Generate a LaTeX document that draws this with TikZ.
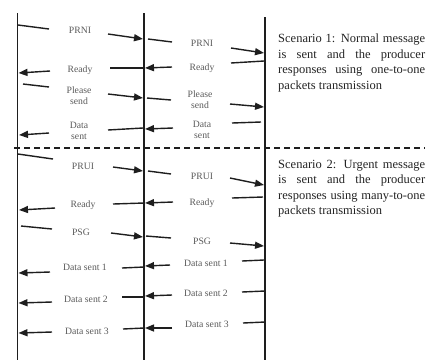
\documentclass[tikz,border=0pt]{standalone}
\usepackage{fontspec}
\setmainfont{Liberation Serif}
\usetikzlibrary{arrows.meta}

\definecolor{inkline}{HTML}{1E1E1E}
\definecolor{inklabel}{HTML}{5A5A5A}
\definecolor{inktext}{HTML}{222222}

% justified paragraphs without hyphenation
\hyphenpenalty=10000
\exhyphenpenalty=10000
\emergencystretch=8pt

% a message line between two named coordinates
\newcommand{\msgseg}[6]{%
  \coordinate (#1-a) at (#3,#4);
  \coordinate (#1-b) at (#5,#6);
  \draw[#2] (#1-a) -- (#1-b);}

\begin{document}
\begin{tikzpicture}[x=1pt,y=-1pt,
  lifeline/.style={draw=inkline,line width=1.1pt},
  msgline/.style={draw=inkline,line width=1.4pt},
  msgarrow/.style={msgline,-{Triangle[length=9pt,width=7pt]}},
  lbl/.style={inner sep=0pt,text=inklabel,font=\fontsize{9.7}{11}\selectfont,align=center},
  scen/.style={inner sep=0pt,anchor=north west,text=inktext,text width=147pt,align=justify,
    font=\fontsize{12.5}{15.5}\selectfont},
  divider/.style={draw=inkline,line width=1.3pt,dash pattern=on 6pt off 4pt}]

\useasboundingbox (0,0) rectangle (427,360);

% lifelines
\coordinate (L-top) at (17.5,13);  \coordinate (L-bot) at (17.5,360);
\coordinate (M-top) at (144,13);   \coordinate (M-bot) at (144,360);
\coordinate (R-top) at (265,17);   \coordinate (R-bot) at (265,360);
\draw[lifeline] (L-top) -- (L-bot);
\draw[lifeline] (M-top) -- (M-bot);
\draw[lifeline] (R-top) -- (R-bot);

% scenario divider
\coordinate (div-a) at (14,148);
\coordinate (div-b) at (425,148);
\draw[divider] (div-a) -- (div-b);

% ---------- scenario 1, left column ----------
\msgseg{l1in}{msgline}{18}{25}{49}{29}
\node[lbl] (l1lbl) at (80,30) {PRNI};
\msgseg{l1out}{msgarrow}{108}{34}{143}{39}

\msgseg{l2in}{msgline}{144}{68}{110}{68}
\node[lbl] (l2lbl) at (80,70) {Ready};
\msgseg{l2out}{msgarrow}{50}{71}{18.5}{73}

\msgseg{l3in}{msgline}{23}{84}{49}{87}
\node[lbl] (l3lbl) at (79,95.5) {Please\\send};
\msgseg{l3out}{msgarrow}{108}{94}{143}{98}

\msgseg{l4in}{msgline}{143}{128}{108}{130}
\node[lbl] (l4lbl) at (79,130.5) {Data\\sent};
\msgseg{l4out}{msgarrow}{49}{133}{19}{135}

% ---------- scenario 1, middle column ----------
\msgseg{m1in}{msgline}{148}{39}{172}{42}
\node[lbl] (m1lbl) at (202,43) {PRNI};
\msgseg{m1out}{msgarrow}{231}{48}{264}{53}

\msgseg{m2in}{msgline}{264}{61}{231}{63}
\node[lbl] (m2lbl) at (202,68) {Ready};
\msgseg{m2out}{msgarrow}{172}{67}{145}{68}

\msgseg{m3in}{msgline}{147}{98}{171}{100}
\node[lbl] (m3lbl) at (200,99.5) {Please\\send};
\msgseg{m3out}{msgarrow}{230}{104}{264}{107}

\msgseg{m4in}{msgline}{261}{122}{232}{123}
\node[lbl] (m4lbl) at (202,130) {Data\\sent};
\msgseg{m4out}{msgarrow}{173}{128}{145}{129}

% ---------- scenario 2, left column ----------
\msgseg{l5in}{msgline}{18}{154}{53}{159}
\node[lbl] (l5lbl) at (83,166) {PRUI};
\msgseg{l5out}{msgarrow}{113}{167}{143}{171}

\msgseg{l6in}{msgline}{144}{203}{113}{204}
\node[lbl] (l6lbl) at (83,205) {Ready};
\msgseg{l6out}{msgarrow}{55}{208}{19}{210}

\msgseg{l7in}{msgline}{21}{226}{52}{229}
\node[lbl] (l7lbl) at (81,232) {PSG};
\msgseg{l7out}{msgarrow}{111}{233}{143}{237}

\msgseg{l8in}{msgline}{144}{267}{122}{268}
\node[lbl] (l8lbl) at (85,267) {Data sent 1};
\msgseg{l8out}{msgarrow}{50}{272}{18.5}{273}

\msgseg{l9in}{msgline}{143}{297}{122}{297}
\node[lbl] (l9lbl) at (86,299) {Data sent 2};
\msgseg{l9out}{msgarrow}{52}{302}{18.5}{303}

\msgseg{l10in}{msgline}{144}{328}{123}{329}
\node[lbl] (l10lbl) at (87,331) {Data sent 3};
\msgseg{l10out}{msgarrow}{52}{332}{18.5}{333}

% ---------- scenario 2, middle column ----------
\msgseg{m5in}{msgline}{148}{171}{171}{174}
\node[lbl] (m5lbl) at (202,176) {PRUI};
\msgseg{m5out}{msgarrow}{230}{178}{264}{185}

\msgseg{m6in}{msgline}{263}{197}{232}{198}
\node[lbl] (m6lbl) at (202,203) {Ready};
\msgseg{m6out}{msgarrow}{173}{202}{145}{203}

\msgseg{m7in}{msgline}{146}{236}{171}{238}
\node[lbl] (m7lbl) at (202,241) {PSG};
\msgseg{m7out}{msgarrow}{230}{243}{264}{246}

\msgseg{m8in}{msgline}{264}{260}{242}{261}
\node[lbl] (m8lbl) at (206,263) {Data sent 1};
\msgseg{m8out}{msgarrow}{170}{265}{145}{266}

\msgseg{m9in}{msgline}{265}{291}{242}{292}
\node[lbl] (m9lbl) at (206,293) {Data sent 2};
\msgseg{m9out}{msgarrow}{172}{295}{145}{296}

\msgseg{m10in}{msgline}{265}{322}{243}{323}
\node[lbl] (m10lbl) at (207,324) {Data sent 3};
\msgseg{m10out}{msgarrow}{172}{328}{145}{328}

% ---------- scenario descriptions ----------
\node[scen] (scen1) at (278,34) {Scenario 1: Normal message is sent and the producer responses using one-to-one packets transmission};
\node[scen] (scen2) at (278,160) {Scenario 2: Urgent message is sent and the producer responses using many-to-one packets transmission};

\end{tikzpicture}
\end{document}
